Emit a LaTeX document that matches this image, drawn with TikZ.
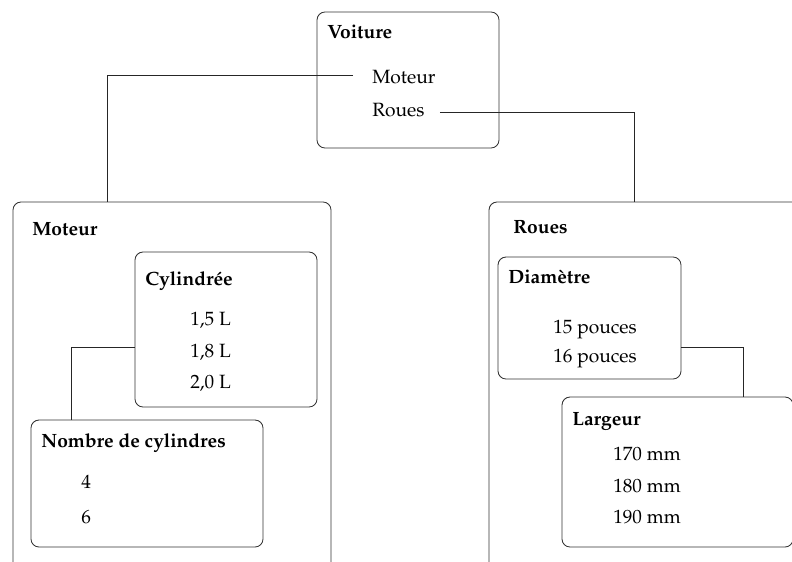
\documentclass[tikz,border=0pt]{standalone}
\usepackage[T1]{fontenc}
\usepackage{mathpazo}
\usetikzlibrary{fit, calc}

\begin{document}
\begin{tikzpicture}[
    x=0.75pt, y=-0.75pt,
    box/.style={draw=black!80, line width=0.65pt, rounded corners=6pt, inner sep=0pt},
    title/.style={anchor=base west, inner sep=0pt, font=\fontsize{14.4}{17}\selectfont\bfseries},
    item/.style={anchor=base west, inner sep=0pt, font=\fontsize{14.4}{17}\selectfont},
    link/.style={draw=black!85, line width=0.6pt}
  ]
  \clip (0,0) rectangle (792,561);
  % boxes
  \node[box, fit={(317,12) (499,148)}] (voiture) {};
  \node[box, fit={(13,202) (331,580)}] (moteur) {};
  \node[box, fit={(489,202) (820,580)}] (roues) {};
  \node[box, fit={(135,252) (317,407)}] (cyl) {};
  \node[box, fit={(31,420) (263,547)}] (nombre) {};
  \node[box, fit={(498,257) (681,379)}] (diam) {};
  \node[box, fit={(562,397) (793,547)}] (largeur) {};
  % texts
  \node[title] (tvoiture) at (327,38) {Voiture};
  \node[item] (motitem) at (372,83) {Moteur};
  \node[item] (rouitem) at (372,116) {Roues};
  \node[title] (tmoteur) at (32,235) {Moteur};
  \node[title] (tcyl) at (145,285) {Cylindrée};
  \node[item] (c1) at (190,325) {1,5 L};
  \node[item] (c2) at (190,357) {1,8 L};
  \node[item] (c3) at (190,388) {2,0 L};
  \node[title] (tnombre) at (41,447) {Nombre de cylindres};
  \node[item] (n1) at (81,488) {4};
  \node[item] (n2) at (81,523) {6};
  \node[title] (troues) at (513,233) {Roues};
  \node[title] (tdiam) at (508,283) {Diamètre};
  \node[item] (d1) at (553,333) {15 pouces};
  \node[item] (d2) at (553,362) {16 pouces};
  \node[title] (tlargeur) at (572,425) {Largeur};
  \node[item] (l1) at (613,460) {170 mm};
  \node[item] (l2) at (613,492) {180 mm};
  \node[item] (l3) at (613,523) {190 mm};
  % connectors
  \draw[link] ($(motitem.west)+(-19,-1)$) -| ($(moteur.north west)+(95,0)$);
  \draw[link] ($(rouitem.east)+(15,3)$) -| ($(roues.north west)+(146,0)$);
  \draw[link] ($(cyl.west)+(0,18)$) -| ($(nombre.north west)+(41,0)$);
  \draw[link] ($(diam.east)+(0,29)$) -| ($(largeur.north west)+(182,0)$);
\end{tikzpicture}
\end{document}
